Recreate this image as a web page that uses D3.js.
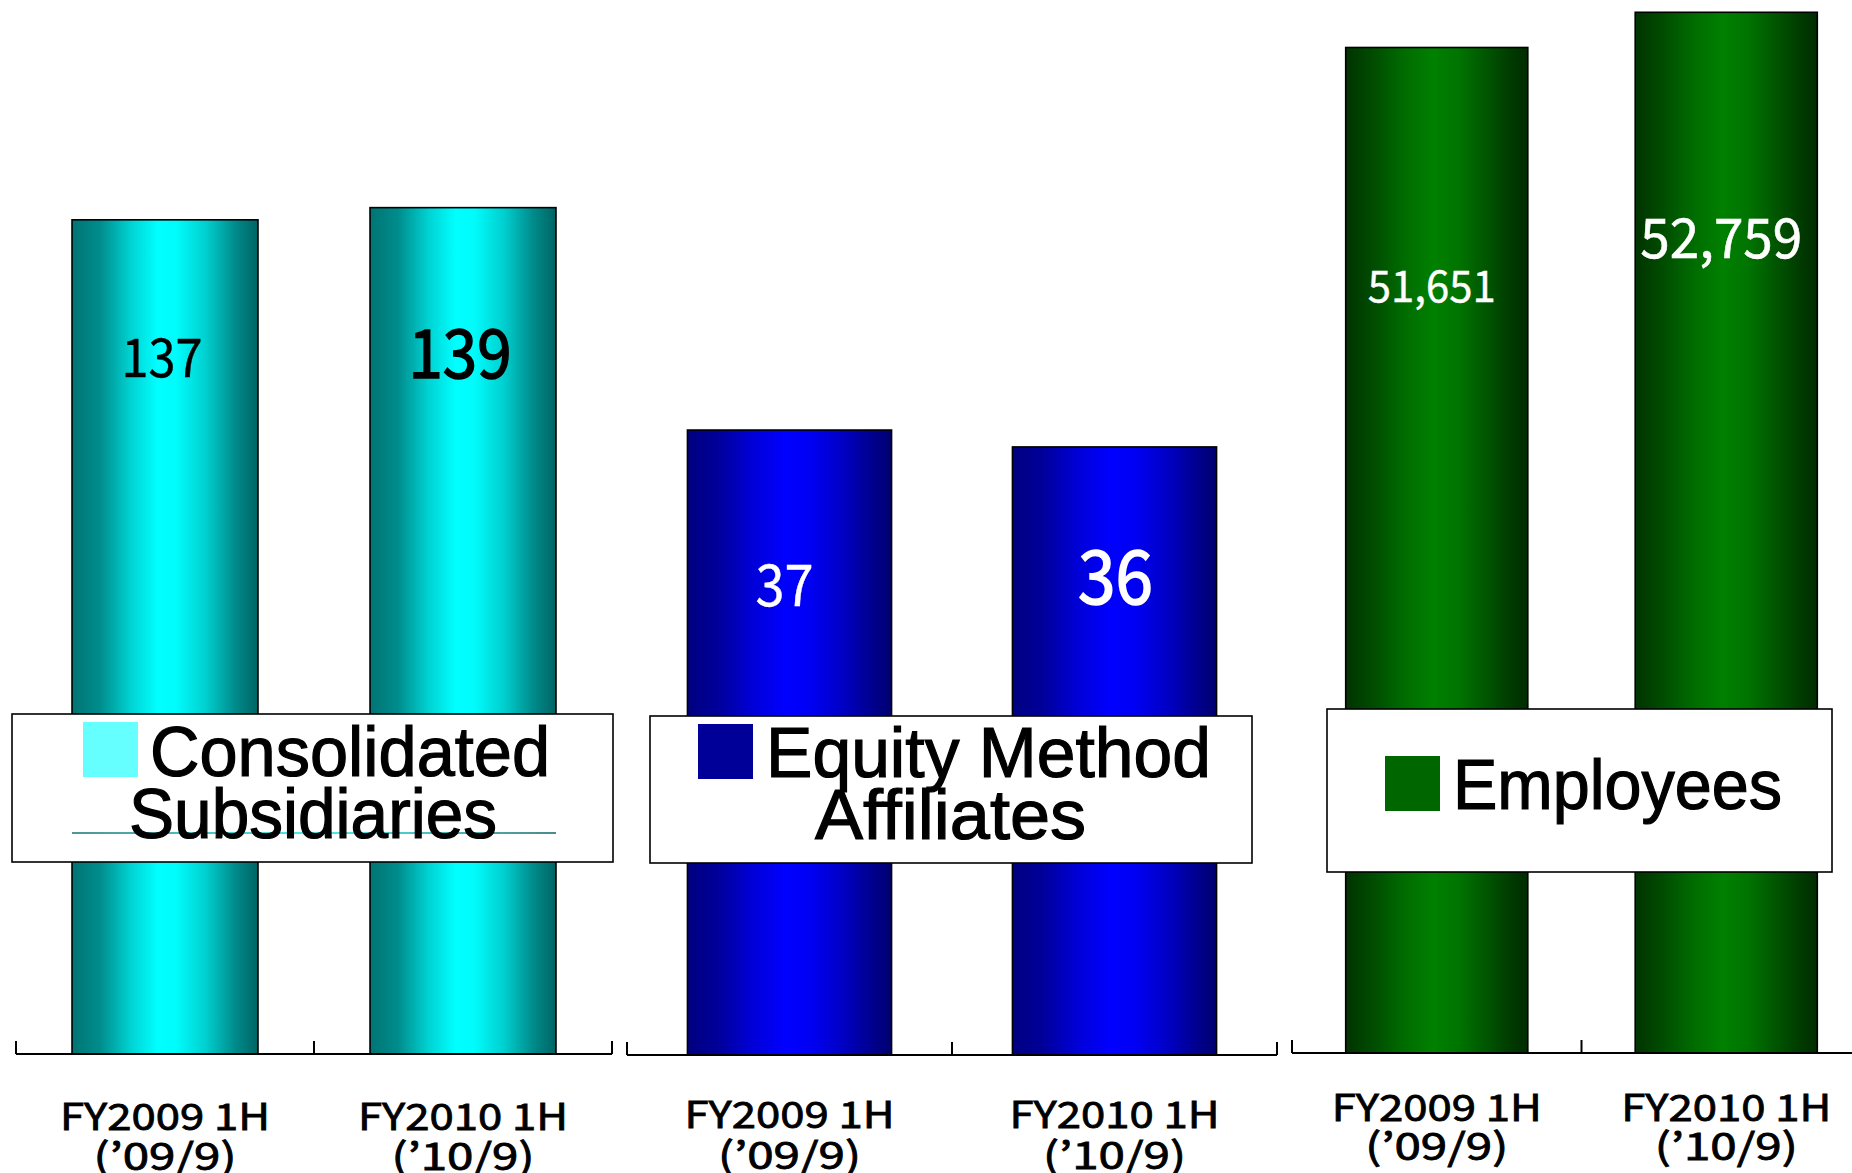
<!DOCTYPE html>
<html><head><meta charset="utf-8">
<script src="https://cdn.jsdelivr.net/npm/d3@7"></script>
<style>body{margin:0;background:#fff;overflow:hidden}</style>
</head><body>
<svg id="c" width="1852" height="1173"></svg>
<script>
// ---- data ----
const categories = ["FY2009 1H", "FY2010 1H"];
const periodLabels = ["(’09/9)", "(’10/9)"];
const legendLines = [["Consolidated", "Subsidiaries"], ["Equity Method", "Affiliates"], ["Employees"]];
const consolidated = [137, 139];
const equityMethod = [37, 36];
const employees = [51651, 52759];
const seriesValues = [consolidated, equityMethod, employees];
const yDomains = [[0, 173.1], [0, 62.46], [20000, 53146]];

// ---- layout / style ----
const layout = [
  { x0: 16, x1: 612, base: 1054, pad: 0.376, grad: "g0", labelColor: "#000",
    labels: [{ size: 53, len: 81, dy: 157, dx: -3, sw: 0.4 }, { size: 68, len: 103, dy: 170, dx: -3, sw: 1.6 }],
    cat: [1130, 1170],
    legend: { box: [12, 714, 613, 862], sw: [83, 722, 55, 55], color: "#66FFFF",
      lines: [{ x: 150, y: 776, len: 400 }, { x: 129, y: 838, len: 368 }] } },
  { x0: 627, x1: 1277, base: 1055, pad: 0.372, grad: "g1", labelColor: "#fff",
    labels: [{ size: 57, len: 58, dy: 176, dx: -5, sw: 0.4 }, { size: 74, len: 75, dy: 157, dx: 1, sw: 1.6 }],
    cat: [1128, 1169],
    legend: { box: [650, 716, 1252, 863], sw: [698, 724, 55, 55], color: "#000099",
      lines: [{ x: 766, y: 777, len: 445 }, { x: 815, y: 839, len: 271 }] } },
  { x0: 1292, x1: 1871, base: 1053, pad: 0.371, grad: "g2", labelColor: "#fff",
    labels: [{ size: 43, len: 128, dy: 255, dx: -5, sw: 0.4 }, { size: 55, len: 162, dy: 246, dx: -5, sw: 0.6 }],
    cat: [1121, 1160],
    legend: { box: [1327, 709, 1832, 872], sw: [1385, 756, 55, 55], color: "#006600",
      lines: [{ x: 1453, y: 809, len: 329 }] } }
];

const gradients = {
  g0: [[0, "#007474"], [0.15, "#008c8c"], [0.32, "#00d4d4"], [0.46, "#00ffff"], [0.56, "#00fcfc"], [0.72, "#00cfcf"], [0.88, "#008a8a"], [1, "#006464"]],
  g1: [[0, "#000080"], [0.15, "#00009a"], [0.32, "#0000d8"], [0.48, "#0000ff"], [0.6, "#0000f4"], [0.75, "#0000c8"], [0.9, "#000090"], [1, "#000070"]],
  g2: [[0, "#003300"], [0.15, "#004c00"], [0.32, "#006c00"], [0.48, "#008000"], [0.62, "#007400"], [0.78, "#005400"], [0.9, "#003c00"], [1, "#002c00"]],
  gl: [[0, "#006868"], [0.3, "#00b0b0"], [0.5, "#00eaea"], [0.7, "#00b0b0"], [1, "#005858"]]
};

const numFont = "'Noto Sans CJK JP', 'DejaVu Sans', sans-serif";
const legFont = "'Liberation Sans', Arial, sans-serif";
const fmt = d3.format(",");

const svg = d3.select("#c");
const defs = svg.append("defs");
Object.entries(gradients).forEach(([id, stops]) => {
  const g = defs.append("linearGradient").attr("id", id).attr("x1", "0%").attr("x2", "100%").attr("y1", "0%").attr("y2", "0%");
  stops.forEach(([o, c]) => g.append("stop").attr("offset", o).attr("stop-color", c));
});

const barLayer = svg.append("g");
const labelLayer = svg.append("g");
const legendLayer = svg.append("g");

layout.forEach((L, p) => {
  const vals = seriesValues[p];
  const x = d3.scaleBand().domain(categories).range([L.x0, L.x1]).paddingInner(L.pad).paddingOuter(L.pad / 2);
  const y = d3.scaleLinear().domain(yDomains[p]).range([L.base, 0]);
  const g = barLayer.append("g");

  // bars
  g.selectAll("rect").data(categories).join("rect")
    .attr("x", d => x(d))
    .attr("width", x.bandwidth())
    .attr("y", (d, i) => y(vals[i]))
    .attr("height", (d, i) => L.base - y(vals[i]))
    .attr("fill", `url(#${L.grad})`)
    .attr("stroke", "#000").attr("stroke-width", 1.6);

  // axis line with upward ticks at category boundaries
  g.append("line").attr("x1", L.x0).attr("x2", L.x1).attr("y1", L.base).attr("y2", L.base)
    .attr("stroke", "#000").attr("stroke-width", 2.2);
  const ticks = d3.range(categories.length + 1).map(i => L.x0 + i * x.step());
  g.selectAll("line.tk").data(ticks).join("line").attr("class", "tk")
    .attr("x1", d => d).attr("x2", d => d).attr("y1", L.base).attr("y2", L.base - 13)
    .attr("stroke", "#000").attr("stroke-width", 2);

  // value labels
  categories.forEach((c, i) => {
    const s = L.labels[i];
    labelLayer.append("text")
      .attr("x", x(c) + x.bandwidth() / 2 + s.dx)
      .attr("y", y(vals[i]) + s.dy)
      .attr("text-anchor", "middle")
      .attr("font-family", numFont).attr("font-size", s.size)
      .attr("textLength", s.len).attr("lengthAdjust", "spacingAndGlyphs")
      .attr("fill", L.labelColor).attr("stroke", L.labelColor).attr("stroke-width", s.sw)
      .text(fmt(vals[i]));

    // category labels
    labelLayer.append("text")
      .attr("x", x(c) + x.bandwidth() / 2).attr("y", L.cat[0])
      .attr("text-anchor", "middle")
      .attr("font-family", numFont).attr("font-size", 37)
      .attr("textLength", 210).attr("lengthAdjust", "spacingAndGlyphs")
      .attr("fill", "#000").attr("stroke", "#000").attr("stroke-width", 0.8)
      .text(c);
    labelLayer.append("text")
      .attr("x", x(c) + x.bandwidth() / 2).attr("y", L.cat[1])
      .attr("text-anchor", "middle")
      .attr("font-family", numFont).attr("font-size", 37)
      .attr("textLength", 143).attr("lengthAdjust", "spacingAndGlyphs")
      .attr("fill", "#000").attr("stroke", "#000").attr("stroke-width", 0.8)
      .text(periodLabels[i]);
  });

  // legend
  const lg = legendLayer.append("g");
  const b = L.legend.box;
  lg.append("rect").attr("x", b[0]).attr("y", b[1]).attr("width", b[2] - b[0]).attr("height", b[3] - b[1])
    .attr("fill", "#fff").attr("stroke", "#000").attr("stroke-width", 1.6);
  const sw = L.legend.sw;
  lg.append("rect").attr("x", sw[0]).attr("y", sw[1]).attr("width", sw[2]).attr("height", sw[3])
    .attr("fill", L.legend.color);
  if (p === 0) {
    const lx0 = x(categories[0]), lx1 = x(categories[1]) + x.bandwidth();
    lg.append("rect").attr("x", lx0).attr("width", lx1 - lx0)
      .attr("y", 832.3).attr("height", 1.4).attr("fill", "url(#gl)");
  }
  legendLines[p].forEach((t, k) => {
    const ln = L.legend.lines[k];
    lg.append("text").attr("x", ln.x).attr("y", ln.y)
      .attr("font-family", legFont).attr("font-size", 70)
      .attr("textLength", ln.len).attr("lengthAdjust", "spacingAndGlyphs")
      .attr("fill", "#000").attr("stroke", "#000").attr("stroke-width", 1.2)
      .text(t);
  });
});
</script>
</body></html>
